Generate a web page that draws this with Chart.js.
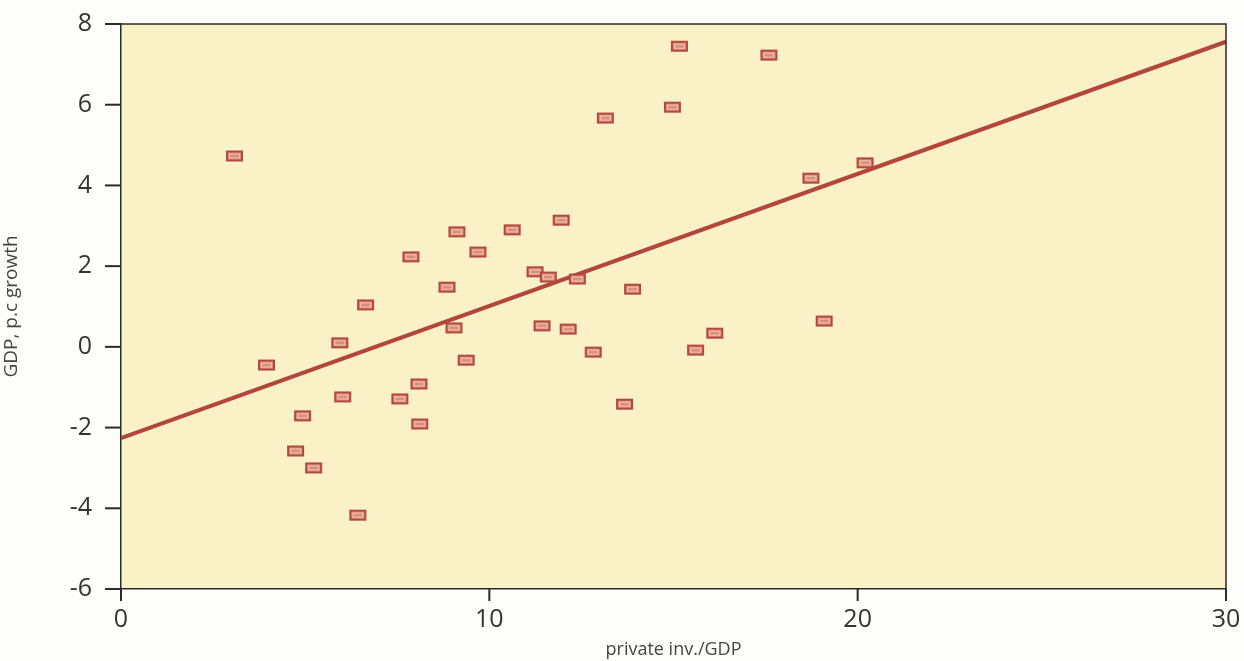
<!DOCTYPE html>
<html><head><meta charset="utf-8">
<script src="https://cdn.jsdelivr.net/npm/chart.js@4/dist/chart.umd.min.js"></script>
<style>html,body{margin:0;padding:0;background:#fdfdfc;}#wrap{width:1244px;height:661px;}</style>
</head><body><div id="wrap"><canvas id="c" width="1244" height="661"></canvas></div>
<script>
const invX = [3.08,3.95,4.93,4.74,5.23,6.43,5.94,6.02,6.64,7.57,7.87,8.09,8.11,8.85,9.12,9.04,9.37,9.69,10.62,11.24,11.60,11.43,11.95,12.14,12.39,12.82,13.15,13.67,13.89,14.97,15.16,15.60,16.12,17.59,18.73,19.09,20.20];
const growthY = [4.73,-0.45,-1.71,-2.58,-3.0,-4.17,0.10,-1.24,1.04,-1.29,2.23,-0.92,-1.91,1.48,2.85,0.47,-0.33,2.35,2.90,1.86,1.73,0.52,3.14,0.44,1.68,-0.13,5.67,-1.42,1.43,5.94,7.45,-0.08,0.34,7.23,4.18,0.64,4.56];
const fitX = [0,30];
const fitY = [-2.26,7.56];
const xTicks = [0,10,20,30];
const yTicks = [-6,-4,-2,0,2,4,6,8];

function marker(w,h){
  const c=document.createElement('canvas');c.width=w+2;c.height=h+2;
  const g=c.getContext('2d');
  g.fillStyle='#dc8e7e';g.fillRect(1,1,w,h);
  g.strokeStyle='#b04a3b';g.lineWidth=2;g.strokeRect(2,2,w-2,h-2);
  g.strokeStyle='rgba(248,205,185,0.85)';g.lineWidth=1;g.strokeRect(4.5,4.5,w-7,h-7);
  return c;
}
const mk = marker(17,11);

const bgPlugin={id:'bgframe',
 beforeDraw(ch){const a=ch.chartArea,g=ch.ctx;g.save();g.fillStyle='#fbf1c6';g.fillRect(a.left,a.top,a.right-a.left,a.bottom-a.top);g.restore();},
 afterDraw(ch){const a=ch.chartArea,g=ch.ctx,xs=ch.scales.x,ys=ch.scales.y;
  g.save();g.strokeStyle='#2a2a2a';g.lineWidth=1.5;
  g.beginPath();g.moveTo(a.left,a.top);g.lineTo(a.right,a.top);g.lineTo(a.right,a.bottom);g.stroke();
  g.lineWidth=2;
  for(const v of yTicks){const p=ys.getPixelForValue(v);g.beginPath();g.moveTo(a.left-16,p);g.lineTo(a.left,p);g.stroke();}
  for(const v of xTicks){const p=xs.getPixelForValue(v);g.beginPath();g.moveTo(p,a.bottom);g.lineTo(p,a.bottom+12);g.stroke();}
  g.restore();}};

function zeroPad(ax){ax.paddingTop=0;ax.paddingBottom=0;ax.paddingLeft=0;ax.paddingRight=0;}

new Chart(document.getElementById('c'),{
  type:'scatter',
  data:{datasets:[
    {type:'line',data:fitX.map((x,i)=>({x:x,y:fitY[i]})),borderColor:'#b3463a',borderWidth:4,pointRadius:0,fill:false,order:2},
    {data:invX.map((x,i)=>({x:x,y:growthY[i]})),pointStyle:mk,pointRadius:9,pointHoverRadius:9,order:1}
  ]},
  plugins:[bgPlugin],
  options:{
    responsive:false,animation:false,
    layout:{padding:{top:24,right:18,left:0,bottom:0}},
    plugins:{legend:{display:false},tooltip:{enabled:false}},
    scales:{
      x:{type:'linear',min:0,max:30,
        afterBuildTicks(ax){ax.ticks=xTicks.map(v=>({value:v}));},
        afterFit(ax){ax.height=72;zeroPad(ax);},
        grid:{drawOnChartArea:false,drawTicks:false},
        border:{color:'#2a2a2a',width:1.5},
        ticks:{font:{family:'Open Sans',size:25},color:'#333',padding:16,maxRotation:0},
        title:{display:true,text:'private inv./GDP',font:{family:'Open Sans',size:18},color:'#444',padding:{top:0,bottom:0}}
      },
      y:{type:'linear',min:-6,max:8,
        afterBuildTicks(ax){ax.ticks=yTicks.map(v=>({value:v}));},
        afterFit(ax){ax.width=121;zeroPad(ax);},
        grid:{drawOnChartArea:false,drawTicks:false},
        border:{color:'#2a2a2a',width:1.5},
        ticks:{font:{family:'Open Sans',size:25},color:'#333',padding:29},
        title:{display:true,text:'GDP, p.c growth',font:{family:'Open Sans',size:19},color:'#444',padding:{top:0,bottom:6}}
      }
    }
  }
});
</script></body></html>
